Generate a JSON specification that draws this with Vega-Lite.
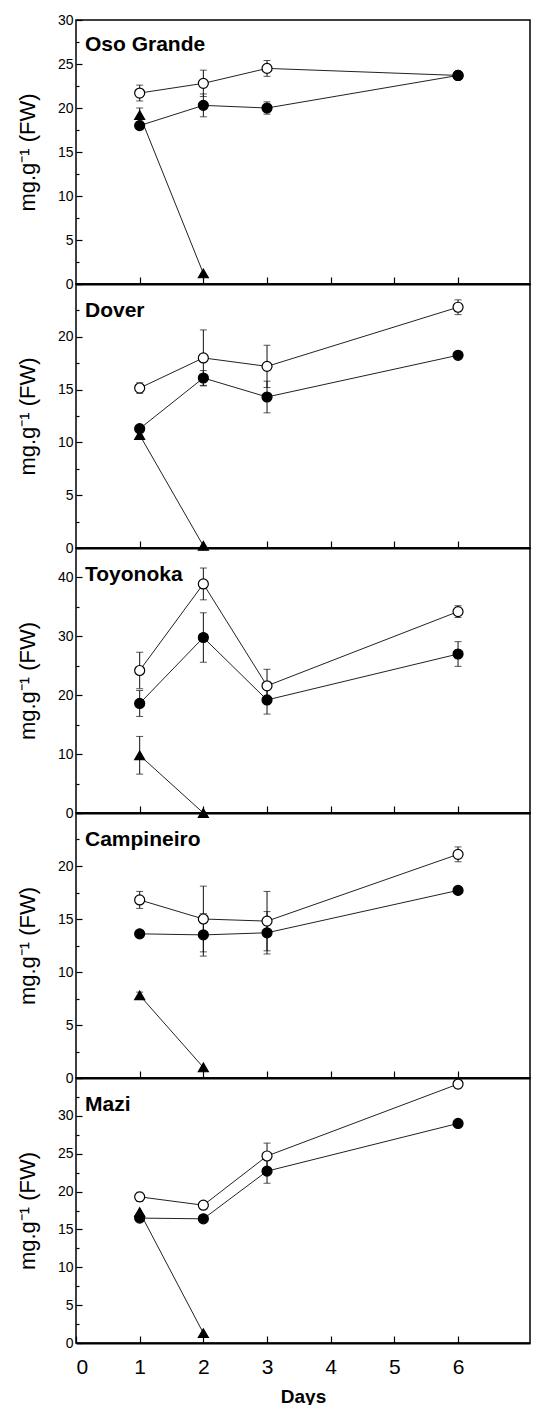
{
  "$schema": "https://vega.github.io/schema/vega-lite/v6.json",
  "padding": {"left": 15, "top": 12, "right": 0, "bottom": 0},
  "spacing": 0,
  "bounds": "flush",
  "background": "white",
  "config": {
    "font": "Liberation Sans",
    "view": {"stroke": "#000", "strokeWidth": 1.5},
    "axis": {"grid": false, "tickColor": "#000", "labelColor": "#000", "titleColor": "#000", "labelFont": "Liberation Sans", "titleFont": "Liberation Sans"},
    "axisY": {"domain": false, "labelFontSize": 14, "labelPadding": 9, "titleFontSize": 22, "titleFontWeight": "normal", "titleX": -49, "titleBaseline": "middle", "tickWidth": 1.2},
    "axisX": {"domain": true, "domainColor": "#000", "domainWidth": 2, "tickSize": -7, "tickWidth": 1.2},
    "title": {"anchor": "start", "frame": "group", "dx": 9, "baseline": "alphabetic", "fontSize": 21, "fontWeight": "bold", "color": "#000", "font": "Liberation Sans"}
  },
  "datasets": {
    "d": [
      {"c": "Oso Grande", "s": "open", "day": 1, "v": 21.7, "e": 0.9},
      {"c": "Oso Grande", "s": "open", "day": 2, "v": 22.8, "e": 1.5},
      {"c": "Oso Grande", "s": "open", "day": 3, "v": 24.5, "e": 0.9},
      {"c": "Oso Grande", "s": "open", "day": 6, "v": 23.7, "e": 0},
      {"c": "Oso Grande", "s": "filled", "day": 1, "v": 18.0, "e": 0},
      {"c": "Oso Grande", "s": "filled", "day": 2, "v": 20.3, "e": 1.3},
      {"c": "Oso Grande", "s": "filled", "day": 3, "v": 20.0, "e": 0.7},
      {"c": "Oso Grande", "s": "filled", "day": 6, "v": 23.7, "e": 0},
      {"c": "Oso Grande", "s": "tri", "day": 1, "v": 19.2, "e": 0.8},
      {"c": "Oso Grande", "s": "tri", "day": 2, "v": 1.2, "e": 0},
      {"c": "Dover", "s": "open", "day": 1, "v": 15.15, "e": 0.5},
      {"c": "Dover", "s": "open", "day": 2, "v": 18.0, "e": 2.65},
      {"c": "Dover", "s": "open", "day": 3, "v": 17.2, "e": 2.0},
      {"c": "Dover", "s": "open", "day": 6, "v": 22.8, "e": 0.7},
      {"c": "Dover", "s": "filled", "day": 1, "v": 11.3, "e": 0.3},
      {"c": "Dover", "s": "filled", "day": 2, "v": 16.1, "e": 0.7},
      {"c": "Dover", "s": "filled", "day": 3, "v": 14.3, "e": 1.5},
      {"c": "Dover", "s": "filled", "day": 6, "v": 18.25, "e": 0},
      {"c": "Dover", "s": "tri", "day": 1, "v": 10.7, "e": 0},
      {"c": "Dover", "s": "tri", "day": 2, "v": 0.2, "e": 0},
      {"c": "Toyonoka", "s": "open", "day": 1, "v": 24.2, "e": 3.1},
      {"c": "Toyonoka", "s": "open", "day": 2, "v": 38.9, "e": 2.7},
      {"c": "Toyonoka", "s": "open", "day": 3, "v": 21.6, "e": 2.8},
      {"c": "Toyonoka", "s": "open", "day": 6, "v": 34.2, "e": 1.0},
      {"c": "Toyonoka", "s": "filled", "day": 1, "v": 18.6, "e": 2.2},
      {"c": "Toyonoka", "s": "filled", "day": 2, "v": 29.8, "e": 4.2},
      {"c": "Toyonoka", "s": "filled", "day": 3, "v": 19.2, "e": 2.4},
      {"c": "Toyonoka", "s": "filled", "day": 6, "v": 27.0, "e": 2.1},
      {"c": "Toyonoka", "s": "tri", "day": 1, "v": 9.8, "e": 3.2},
      {"c": "Toyonoka", "s": "tri", "day": 2, "v": 0, "e": 0},
      {"c": "Campineiro", "s": "open", "day": 1, "v": 16.8, "e": 0.8},
      {"c": "Campineiro", "s": "open", "day": 2, "v": 15.0, "e": 3.1},
      {"c": "Campineiro", "s": "open", "day": 3, "v": 14.8, "e": 2.8},
      {"c": "Campineiro", "s": "open", "day": 6, "v": 21.1, "e": 0.7},
      {"c": "Campineiro", "s": "filled", "day": 1, "v": 13.6, "e": 0},
      {"c": "Campineiro", "s": "filled", "day": 2, "v": 13.5, "e": 2.0},
      {"c": "Campineiro", "s": "filled", "day": 3, "v": 13.7, "e": 2.0},
      {"c": "Campineiro", "s": "filled", "day": 6, "v": 17.7, "e": 0},
      {"c": "Campineiro", "s": "tri", "day": 1, "v": 7.8, "e": 0.3},
      {"c": "Campineiro", "s": "tri", "day": 2, "v": 1.0, "e": 0},
      {"c": "Mazi", "s": "open", "day": 1, "v": 19.3, "e": 0.6},
      {"c": "Mazi", "s": "open", "day": 2, "v": 18.2, "e": 0.4},
      {"c": "Mazi", "s": "open", "day": 3, "v": 24.7, "e": 1.7},
      {"c": "Mazi", "s": "open", "day": 6, "v": 34.2, "e": 0.5},
      {"c": "Mazi", "s": "filled", "day": 1, "v": 16.5, "e": 0},
      {"c": "Mazi", "s": "filled", "day": 2, "v": 16.4, "e": 0},
      {"c": "Mazi", "s": "filled", "day": 3, "v": 22.7, "e": 1.6},
      {"c": "Mazi", "s": "filled", "day": 6, "v": 29.0, "e": 0},
      {"c": "Mazi", "s": "tri", "day": 1, "v": 17.3, "e": 0},
      {"c": "Mazi", "s": "tri", "day": 2, "v": 1.3, "e": 0}
    ]
  },
  "vconcat": [
    {
      "width": 454, "height": 264,
      "title": {"text": "Oso Grande", "offset": -42},
      "data": {"name": "d"},
      "transform": [{"filter": "datum.c === 'Oso Grande'"}],
      "encoding": {
        "x": {"field": "day", "type": "quantitative", "scale": {"domain": [0, 7.13], "nice": false}, "axis": {"values": [1, 2, 3, 4, 5, 6], "labels": false, "title": null}},
        "y": {"field": "v", "type": "quantitative", "scale": {"domain": [0, 30], "nice": false}, "axis": {"title": "mg.g⁻¹ (FW)", "values": [0, 2.5, 5, 7.5, 10, 12.5, 15, 17.5, 20, 22.5, 25, 27.5, 30], "labelExpr": "datum.value % 5 === 0 ? datum.label : ''", "tickSize": {"condition": {"test": "datum.value % 5 === 0", "value": -6}, "value": -3}}}
      },
      "layer": [
        {"transform": [{"filter": "datum.e > 0"}], "mark": {"type": "errorbar", "ticks": {"size": 7, "color": "#111"}, "color": "#111", "thickness": 1}, "encoding": {"yError": {"field": "e"}}},
        {"mark": {"type": "line", "color": "#222", "strokeWidth": 1}, "encoding": {"detail": {"field": "s"}}},
        {"mark": {"type": "point", "stroke": "#000", "strokeWidth": 1.2, "opacity": 1, "fillOpacity": 1},
         "encoding": {
           "shape": {"field": "s", "scale": {"domain": ["open", "filled", "tri"], "range": ["circle", "circle", "triangle-up"]}, "legend": null},
           "fill": {"field": "s", "scale": {"domain": ["open", "filled", "tri"], "range": ["#fff", "#000", "#000"]}, "legend": null},
           "size": {"field": "s", "scale": {"domain": ["open", "filled", "tri"], "range": [100, 100, 125]}, "legend": null}
         }}
      ]
    },
    {
      "width": 454, "height": 264,
      "title": {"text": "Dover", "offset": -38},
      "data": {"name": "d"},
      "transform": [{"filter": "datum.c === 'Dover'"}],
      "encoding": {
        "x": {"field": "day", "type": "quantitative", "scale": {"domain": [0, 7.13], "nice": false}, "axis": {"values": [1, 2, 3, 4, 5, 6], "labels": false, "title": null}},
        "y": {"field": "v", "type": "quantitative", "scale": {"domain": [0, 25], "nice": false}, "axis": {"title": "mg.g⁻¹ (FW)", "values": [0, 2.5, 5, 7.5, 10, 12.5, 15, 17.5, 20, 22.5, 25], "labelExpr": "datum.value % 5 === 0 && datum.value < 25 ? datum.label : ''", "tickSize": {"condition": {"test": "datum.value % 5 === 0", "value": -6}, "value": -3}}}
      },
      "layer": [
        {"transform": [{"filter": "datum.e > 0"}], "mark": {"type": "errorbar", "ticks": {"size": 7, "color": "#111"}, "color": "#111", "thickness": 1}, "encoding": {"yError": {"field": "e"}}},
        {"mark": {"type": "line", "color": "#222", "strokeWidth": 1}, "encoding": {"detail": {"field": "s"}}},
        {"mark": {"type": "point", "stroke": "#000", "strokeWidth": 1.2, "opacity": 1, "fillOpacity": 1},
         "encoding": {
           "shape": {"field": "s", "scale": {"domain": ["open", "filled", "tri"], "range": ["circle", "circle", "triangle-up"]}, "legend": null},
           "fill": {"field": "s", "scale": {"domain": ["open", "filled", "tri"], "range": ["#fff", "#000", "#000"]}, "legend": null},
           "size": {"field": "s", "scale": {"domain": ["open", "filled", "tri"], "range": [100, 100, 125]}, "legend": null}
         }}
      ]
    },
    {
      "width": 454, "height": 265,
      "title": {"text": "Toyonoka", "offset": -38},
      "data": {"name": "d"},
      "transform": [{"filter": "datum.c === 'Toyonoka'"}],
      "encoding": {
        "x": {"field": "day", "type": "quantitative", "scale": {"domain": [0, 7.13], "nice": false}, "axis": {"values": [1, 2, 3, 4, 5, 6], "labels": false, "title": null}},
        "y": {"field": "v", "type": "quantitative", "scale": {"domain": [0, 45], "nice": false}, "axis": {"title": "mg.g⁻¹ (FW)", "values": [0, 5, 10, 15, 20, 25, 30, 35, 40, 45], "labelExpr": "datum.value % 10 === 0 ? datum.label : ''", "tickSize": {"condition": {"test": "datum.value % 10 === 0", "value": -6}, "value": -3}}}
      },
      "layer": [
        {"transform": [{"filter": "datum.e > 0"}], "mark": {"type": "errorbar", "ticks": {"size": 7, "color": "#111"}, "color": "#111", "thickness": 1}, "encoding": {"yError": {"field": "e"}}},
        {"mark": {"type": "line", "color": "#222", "strokeWidth": 1}, "encoding": {"detail": {"field": "s"}}},
        {"mark": {"type": "point", "stroke": "#000", "strokeWidth": 1.2, "opacity": 1, "fillOpacity": 1},
         "encoding": {
           "shape": {"field": "s", "scale": {"domain": ["open", "filled", "tri"], "range": ["circle", "circle", "triangle-up"]}, "legend": null},
           "fill": {"field": "s", "scale": {"domain": ["open", "filled", "tri"], "range": ["#fff", "#000", "#000"]}, "legend": null},
           "size": {"field": "s", "scale": {"domain": ["open", "filled", "tri"], "range": [100, 100, 125]}, "legend": null}
         }}
      ]
    },
    {
      "width": 454, "height": 265,
      "title": {"text": "Campineiro", "offset": -38},
      "data": {"name": "d"},
      "transform": [{"filter": "datum.c === 'Campineiro'"}],
      "encoding": {
        "x": {"field": "day", "type": "quantitative", "scale": {"domain": [0, 7.13], "nice": false}, "axis": {"values": [1, 2, 3, 4, 5, 6], "labels": false, "title": null}},
        "y": {"field": "v", "type": "quantitative", "scale": {"domain": [0, 25], "nice": false}, "axis": {"title": "mg.g⁻¹ (FW)", "values": [0, 2.5, 5, 7.5, 10, 12.5, 15, 17.5, 20, 22.5, 25], "labelExpr": "datum.value % 5 === 0 && datum.value < 25 ? datum.label : ''", "tickSize": {"condition": {"test": "datum.value % 5 === 0", "value": -6}, "value": -3}}}
      },
      "layer": [
        {"transform": [{"filter": "datum.e > 0"}], "mark": {"type": "errorbar", "ticks": {"size": 7, "color": "#111"}, "color": "#111", "thickness": 1}, "encoding": {"yError": {"field": "e"}}},
        {"mark": {"type": "line", "color": "#222", "strokeWidth": 1}, "encoding": {"detail": {"field": "s"}}},
        {"mark": {"type": "point", "stroke": "#000", "strokeWidth": 1.2, "opacity": 1, "fillOpacity": 1},
         "encoding": {
           "shape": {"field": "s", "scale": {"domain": ["open", "filled", "tri"], "range": ["circle", "circle", "triangle-up"]}, "legend": null},
           "fill": {"field": "s", "scale": {"domain": ["open", "filled", "tri"], "range": ["#fff", "#000", "#000"]}, "legend": null},
           "size": {"field": "s", "scale": {"domain": ["open", "filled", "tri"], "range": [100, 100, 125]}, "legend": null}
         }}
      ]
    },
    {
      "width": 454, "height": 265,
      "title": {"text": "Mazi", "offset": -38},
      "data": {"name": "d"},
      "transform": [{"filter": "datum.c === 'Mazi'"}],
      "encoding": {
        "x": {"field": "day", "type": "quantitative", "scale": {"domain": [0, 7.13], "nice": false}, "axis": {"values": [0, 1, 2, 3, 4, 5, 6], "title": "Days", "labelFontSize": 21, "labelPadding": 20, "titleFontSize": 19, "titleFontWeight": "bold", "titlePadding": 10}},
        "y": {"field": "v", "type": "quantitative", "scale": {"domain": [0, 35], "nice": false}, "axis": {"title": "mg.g⁻¹ (FW)", "values": [0, 2.5, 5, 7.5, 10, 12.5, 15, 17.5, 20, 22.5, 25, 27.5, 30, 32.5, 35], "labelExpr": "datum.value % 5 === 0 && datum.value < 35 ? datum.label : ''", "tickSize": {"condition": {"test": "datum.value % 5 === 0", "value": -6}, "value": -3}}}
      },
      "layer": [
        {"transform": [{"filter": "datum.e > 0"}], "mark": {"type": "errorbar", "ticks": {"size": 7, "color": "#111"}, "color": "#111", "thickness": 1}, "encoding": {"yError": {"field": "e"}}},
        {"mark": {"type": "line", "color": "#222", "strokeWidth": 1}, "encoding": {"detail": {"field": "s"}}},
        {"mark": {"type": "point", "stroke": "#000", "strokeWidth": 1.2, "opacity": 1, "fillOpacity": 1},
         "encoding": {
           "shape": {"field": "s", "scale": {"domain": ["open", "filled", "tri"], "range": ["circle", "circle", "triangle-up"]}, "legend": null},
           "fill": {"field": "s", "scale": {"domain": ["open", "filled", "tri"], "range": ["#fff", "#000", "#000"]}, "legend": null},
           "size": {"field": "s", "scale": {"domain": ["open", "filled", "tri"], "range": [100, 100, 125]}, "legend": null}
         }}
      ]
    }
  ]
}
